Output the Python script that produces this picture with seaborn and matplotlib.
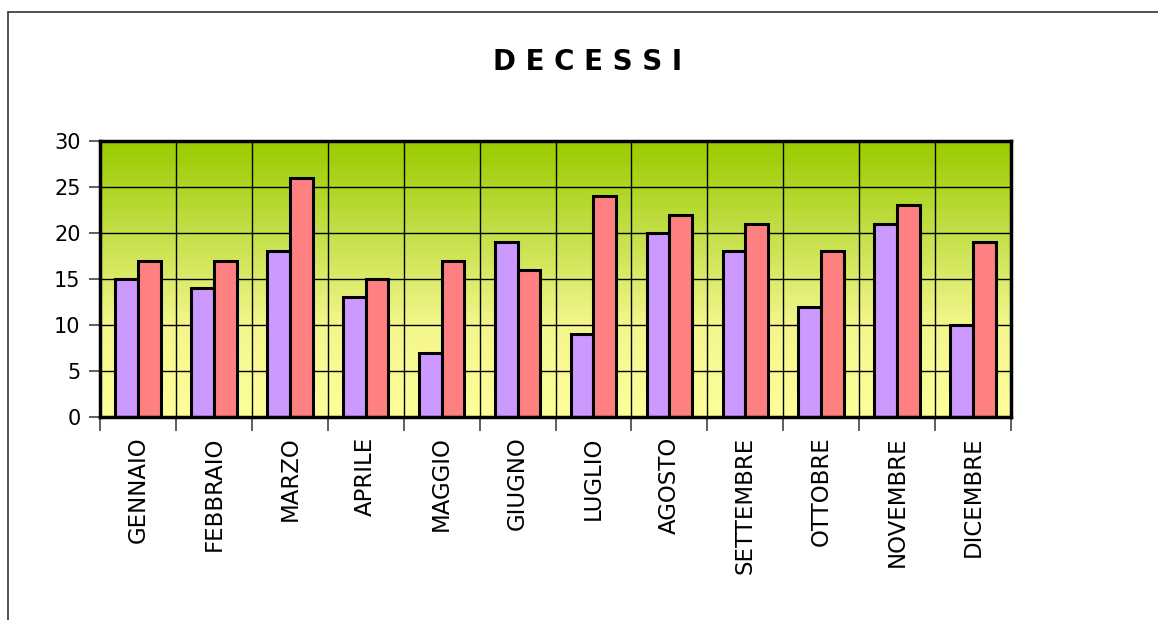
import numpy as np
import pandas as pd
import matplotlib
matplotlib.use("Agg")
import matplotlib.pyplot as plt
from matplotlib.colors import LinearSegmentedColormap
from matplotlib.lines import Line2D
import seaborn as sns

months = ["GENNAIO", "FEBBRAIO", "MARZO", "APRILE", "MAGGIO", "GIUGNO",
          "LUGLIO", "AGOSTO", "SETTEMBRE", "OTTOBRE", "NOVEMBRE", "DICEMBRE"]
serie1 = [15, 14, 18, 13, 7, 19, 9, 20, 18, 12, 21, 10]
serie2 = [17, 17, 26, 15, 17, 16, 24, 22, 21, 18, 23, 19]
series_names = ["Serie 1", "Serie 2"]
colors = ["#CC99FF", "#FF8080"]
yticks = [0, 5, 10, 15, 20, 25, 30]
title = "D E C E S S I"

df = pd.DataFrame({
    "mese": months * 2,
    "serie": [series_names[0]] * len(months) + [series_names[1]] * len(months),
    "valore": serie1 + serie2,
})

sns.set_style("white")
plt.rcParams["font.family"] = ["DejaVu Sans"]
plt.rcParams["text.color"] = "black"
plt.rcParams["xtick.color"] = "black"
plt.rcParams["ytick.color"] = "black"

W, H = 1158, 620
fig = plt.figure(figsize=(W / 100, H / 100), dpi=100)
ax = fig.add_axes([100 / W, 1 - 417 / H, (1011 - 100) / W, (417 - 141) / H])

sns.barplot(data=df, x="mese", y="valore", hue="serie", palette=colors,
            width=0.6, edgecolor="black", linewidth=2.2, ax=ax, legend=False,
            zorder=3, saturation=1)

n = len(months)
ax.set_xlim(-0.5, n - 0.5)
ax.set_ylim(0, 30)

# gradient background
cmap = LinearSegmentedColormap.from_list("bg", ["#FFFF99", "#F4F68C", "#C4DF48", "#99CC00"])
grad = np.linspace(0, 1, 256).reshape(-1, 1)
ax.imshow(grad, extent=(-0.5, n - 0.5, 0, 30), origin="lower", aspect="auto",
          cmap=cmap, zorder=0)

# grid
for y in yticks[1:-1]:
    ax.axhline(y, color="black", lw=1, zorder=1)
for b in np.arange(0.5, n - 0.5, 1):
    ax.axvline(b, color="black", lw=1, zorder=1)

ax.set_yticks(yticks)
ax.set_yticklabels([str(v) for v in yticks], fontsize=15, color="black")
ax.set_xticks(range(n))
ax.set_xticklabels(months, rotation=90, fontsize=16.5, color="black")
ax.set_xticks(np.arange(-0.5, n, 1), minor=True)
ax.tick_params(axis="x", which="major", length=0, pad=14, bottom=True)
ax.tick_params(axis="x", which="minor", length=10, width=1.2, color="#444444",
               direction="out", bottom=True)
ax.tick_params(axis="y", length=8, width=1.2, color="#444444", direction="out",
               pad=6, left=True)
ax.set_xlabel("")
ax.set_ylabel("")

for s in ax.spines.values():
    s.set_visible(True)
    s.set_color("black")
    s.set_linewidth(2.5)
    s.set_zorder(5)

fig.text(588 / W, 1 - 62 / H, title, ha="center", va="center",
         fontsize=20, fontweight="bold", color="black")

# chart frame lines
fig.add_artist(Line2D([8 / W, 1], [1 - 12 / H, 1 - 12 / H], transform=fig.transFigure,
                      color="#333333", lw=1.2))
fig.add_artist(Line2D([8 / W, 8 / W], [0, 1 - 12 / H], transform=fig.transFigure,
                      color="#333333", lw=1.2))

fig.savefig("out.png", dpi=100, facecolor="white")
